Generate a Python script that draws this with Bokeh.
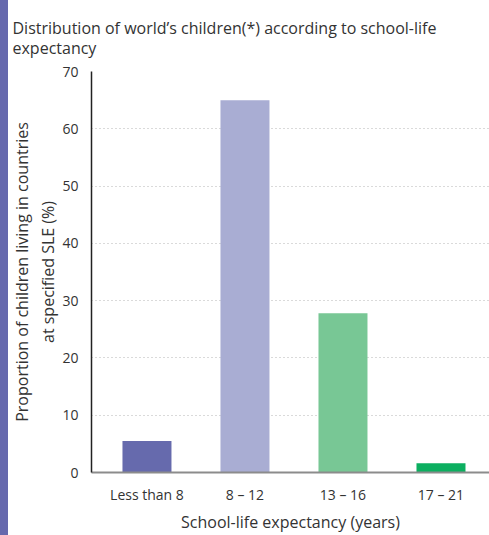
from bokeh.plotting import figure
from bokeh.models import Range1d, FixedTicker, Div, Title
from bokeh.layouts import row
from bokeh.embed import file_html
from bokeh.resources import INLINE

# School-life expectancy bands and share of the world's children in each
categories = ["Less than 8", "8 – 12", "13 – 16", "17 – 21"]
shares = [5.5, 65.0, 27.8, 1.6]
bar_colors = ["#666aad", "#a9add3", "#78c795", "#0caf60"]
y_ticks = [0, 10, 20, 30, 40, 50, 60, 70]

FONT = "Open Sans"
TEXT = "#333333"

positions = list(range(len(categories)))

p = figure(
    width=481, height=535,
    x_range=Range1d(-0.566, 3.495),
    y_range=Range1d(0, 70),
    output_backend="svg", toolbar_location=None,
    min_border_left=83, min_border_right=0,
    min_border_top=71, min_border_bottom=63,
)
p.outline_line_color = None
p.background_fill_color = "white"
p.border_fill_color = "white"

p.vbar(x=positions, top=shares, width=0.5, color=bar_colors, line_color=None)

# Title on two lines, flush with the left edge
title = Title(
    text="Distribution of world’s children(*) according to school-life\nexpectancy",
    text_font=FONT, text_font_size="16px", text_font_style="normal",
    text_color=TEXT, align="left", offset=-79, standoff=24,
    text_line_height=0.95,
)
p.title = title

# x axis: category labels at bar centres
xa = p.xaxis[0]
xa.ticker = FixedTicker(ticks=positions)
xa.major_label_overrides = {i: c for i, c in enumerate(categories)}
xa.axis_line_color = "#8c8c8c"
xa.axis_line_width = 2
xa.major_tick_line_color = None
xa.minor_tick_line_color = None
xa.major_label_text_font = FONT
xa.major_label_text_font_size = "14px"
xa.major_label_text_color = TEXT
xa.major_label_standoff = 6
xa.axis_label = "School-life expectancy (years)"
xa.axis_label_text_font = FONT
xa.axis_label_text_font_size = "16px"
xa.axis_label_text_font_style = "normal"
xa.axis_label_text_color = TEXT
xa.axis_label_standoff = 4

# y axis
ya = p.yaxis[0]
ya.ticker = FixedTicker(ticks=y_ticks)
ya.axis_line_color = "#222222"
ya.axis_line_width = 1.5
ya.major_tick_line_color = None
ya.minor_tick_line_color = None
ya.major_label_text_font = FONT
ya.major_label_text_font_size = "14px"
ya.major_label_text_color = TEXT
ya.major_label_standoff = 7
ya.axis_label = "Proportion of children living in countries\nat specified SLE (%)"
ya.axis_label_text_font = FONT
ya.axis_label_text_font_size = "16px"
ya.axis_label_text_font_style = "normal"
ya.axis_label_text_color = TEXT
ya.axis_label_standoff = 0

p.xgrid.grid_line_color = None
p.ygrid.grid_line_color = "#b5b5b5"
p.ygrid.grid_line_dash = "1 3"
p.ygrid.grid_line_width = 1

strip = Div(width=8, height=535, margin=0, styles={"background-color": "#6669ad"})
layout = row(strip, p, spacing=0)

open("out.html", "w").write(file_html(layout, INLINE))
